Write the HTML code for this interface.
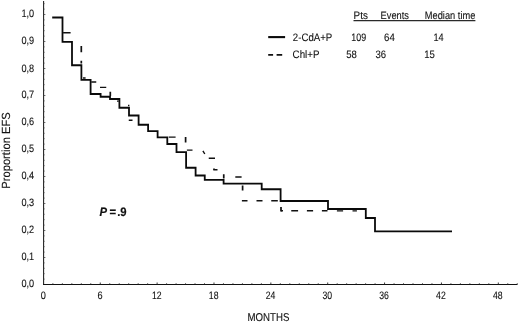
<!DOCTYPE html>
<html><head><meta charset="utf-8"><title>EFS</title>
<style>html,body{margin:0;padding:0;background:#fff}svg{display:block;filter:grayscale(1)}text{font-family:"Liberation Sans",sans-serif;fill:#111;stroke:#111;text-rendering:geometricPrecision}</style></head><body>
<svg width="520" height="323" viewBox="0 0 520 323">
<rect width="520" height="323" fill="#fff"/>
<path d="M43.6 1 V284.5" stroke="#1c1c1c" stroke-width="1.05" fill="none"/>
<path d="M43 284.5 H517.4" stroke="#111" stroke-width="1.05" fill="none"/>
<path d="M52.88 284.5 v-1.2 M62.35 284.5 v-1.2 M71.83 284.5 v-1.2 M81.31 284.5 v-1.2 M90.78 284.5 v-1.2 M100.26 284.5 v-2.0 M109.74 284.5 v-1.2 M119.22 284.5 v-1.2 M128.69 284.5 v-1.2 M138.17 284.5 v-1.2 M147.65 284.5 v-1.2 M157.12 284.5 v-2.0 M166.60 284.5 v-1.2 M176.08 284.5 v-1.2 M185.56 284.5 v-1.2 M195.03 284.5 v-1.2 M204.51 284.5 v-1.2 M213.99 284.5 v-2.0 M223.46 284.5 v-1.2 M232.94 284.5 v-1.2 M242.42 284.5 v-1.2 M251.89 284.5 v-1.2 M261.37 284.5 v-1.2 M270.85 284.5 v-2.0 M280.32 284.5 v-1.2 M289.80 284.5 v-1.2 M299.28 284.5 v-1.2 M308.76 284.5 v-1.2 M318.23 284.5 v-1.2 M327.71 284.5 v-2.0 M337.19 284.5 v-1.2 M346.66 284.5 v-1.2 M356.14 284.5 v-1.2 M365.62 284.5 v-1.2 M375.09 284.5 v-1.2 M384.57 284.5 v-2.0 M394.05 284.5 v-1.2 M403.53 284.5 v-1.2 M413.00 284.5 v-1.2 M422.48 284.5 v-1.2 M431.96 284.5 v-1.2 M441.43 284.5 v-2.0 M450.91 284.5 v-1.2 M460.39 284.5 v-1.2 M469.87 284.5 v-1.2 M479.34 284.5 v-1.2 M488.82 284.5 v-1.2 M498.30 284.5 v-2.0 M507.77 284.5 v-1.2 M517.25 284.5 v-1.2" stroke="#222" stroke-width="0.9" fill="none"/>
<path d="M43.6 279.10 h1.0 M43.6 273.70 h1.0 M43.6 268.30 h1.0 M43.6 262.90 h1.0 M43.6 257.50 h1.8 M43.6 252.10 h1.0 M43.6 246.70 h1.0 M43.6 241.30 h1.0 M43.6 235.90 h1.0 M43.6 230.50 h1.8 M43.6 225.10 h1.0 M43.6 219.70 h1.0 M43.6 214.30 h1.0 M43.6 208.90 h1.0 M43.6 203.50 h1.8 M43.6 198.10 h1.0 M43.6 192.70 h1.0 M43.6 187.30 h1.0 M43.6 181.90 h1.0 M43.6 176.50 h1.8 M43.6 171.10 h1.0 M43.6 165.70 h1.0 M43.6 160.30 h1.0 M43.6 154.90 h1.0 M43.6 149.50 h1.8 M43.6 144.10 h1.0 M43.6 138.70 h1.0 M43.6 133.30 h1.0 M43.6 127.90 h1.0 M43.6 122.50 h1.8 M43.6 117.10 h1.0 M43.6 111.70 h1.0 M43.6 106.30 h1.0 M43.6 100.90 h1.0 M43.6 95.50 h1.8 M43.6 90.10 h1.0 M43.6 84.70 h1.0 M43.6 79.30 h1.0 M43.6 73.90 h1.0 M43.6 68.50 h1.8 M43.6 63.10 h1.0 M43.6 57.70 h1.0 M43.6 52.30 h1.0 M43.6 46.90 h1.0 M43.6 41.50 h1.8 M43.6 36.10 h1.0 M43.6 30.70 h1.0 M43.6 25.30 h1.0 M43.6 19.90 h1.0 M43.6 14.50 h1.8 M43.6 9.10 h1.0 M43.6 3.70 h1.0" stroke="#444" stroke-width="0.8" fill="none"/>
<path d="M52.2 17.5 L62.5 17.5 L62.5 41.9 L72 41.9 L72 65.25 L81.4 65.25 L81.4 79.9 L90.6 79.9 L90.6 94.0 L100.6 94.0 L100.6 96.75 L110 96.75 L110 99.0 L119.4 99.0 L119.4 107.75 L129 107.75 L129 115.5 L138.6 115.5 L138.6 124.75 L148.1 124.75 L148.1 131.1 L157.6 131.1 L157.6 137.4 L167.3 137.4 L167.3 144.0 L176.5 144.0 L176.5 152.2 L186.1 152.2 L186.1 167.75 L195.6 167.75 L195.6 175.5 L204.75 175.5 L204.75 179.9 L223.6 179.9 L223.6 183.6 L261.7 183.6 L261.7 189.25 L280.6 189.25 L280.6 201.0 L328 201.0 L328 209.0 L365.8 209.0 L365.8 218.0 L375 218.0 L375 231.3 L452 231.3" stroke="#0a0a0a" stroke-width="1.8" fill="none" stroke-linejoin="miter"/>
<path d="M81.3 46.0 V52.3 M81.3 60.8 V63.5 M110.3 91.8 V95.9 M185.6 137.0 V142.4 M214 168.4 V169.7 M223.75 174.25 V178.5 M242.6 185.5 V190.5 M281 207.0 V211.5" stroke="#111" stroke-width="1.7" fill="none"/>
<path d="M63.1 32.75 H70.6 M83 78.0 H85.6 M91.25 82.0 H96.25 M100 87.4 H106.25 M117 101.1 H118.75 M128 105.5 H129.4 M128.75 120.25 H132.5 M168.75 137.1 H175.6 M186.9 150.1 H192.5 M208.75 158.3 H215 M213.3 169.7 H217.5 M235.3 177.0 H241.6 M241.9 200.7 H247.5 M256.5 200.7 H262.5 M271.25 200.7 H277.8 M281 210.7 H283 M291.25 210.7 H298.1 M306.9 210.7 H313.1 M321.9 210.7 H327.5 M336.9 210.9 H343.1 M352.5 210.9 H356.9 M202.9 150.8 L204.8 154" stroke="#111" stroke-width="1.4" fill="none"/>
<path d="M268.2 37.1 H285.1" stroke="#0a0a0a" stroke-width="2.1"/>
<path d="M268.2 54.9 H273.1 M276.6 54.9 H282.2" stroke="#111" stroke-width="1.9"/>
<path d="M353.5 20.6 H475.4" stroke="#2a2a2a" stroke-width="1.05"/>
<text transform="translate(21.5 287.2) scale(0.09137 0.10600)" font-size="100" stroke-width="1.0">0,0</text>
<text transform="translate(21.5 260.19) scale(0.09137 0.10600)" font-size="100" stroke-width="1.0">0,1</text>
<text transform="translate(21.5 233.18) scale(0.09137 0.10600)" font-size="100" stroke-width="1.0">0,2</text>
<text transform="translate(21.5 206.17) scale(0.09137 0.10600)" font-size="100" stroke-width="1.0">0,3</text>
<text transform="translate(21.5 179.16) scale(0.09137 0.10600)" font-size="100" stroke-width="1.0">0,4</text>
<text transform="translate(21.5 152.15) scale(0.09137 0.10600)" font-size="100" stroke-width="1.0">0,5</text>
<text transform="translate(21.5 125.14) scale(0.09137 0.10600)" font-size="100" stroke-width="1.0">0,6</text>
<text transform="translate(21.5 98.43) scale(0.09137 0.10600)" font-size="100" stroke-width="1.0">0,7</text>
<text transform="translate(21.5 71.52) scale(0.09137 0.10600)" font-size="100" stroke-width="1.0">0,8</text>
<text transform="translate(21.5 44.31) scale(0.09137 0.10600)" font-size="100" stroke-width="1.0">0,9</text>
<text transform="translate(21.5 17.1) scale(0.09137 0.10600)" font-size="100" stroke-width="1.0">1,0</text>
<text transform="translate(40.65 298.6) scale(0.09171 0.10800)" font-size="100" stroke-width="1.0">0</text>
<text transform="translate(97.47 298.6) scale(0.09171 0.10800)" font-size="100" stroke-width="1.0">6</text>
<text transform="translate(151.99 298.6) scale(0.08722 0.10800)" font-size="100" stroke-width="1.0">12</text>
<text transform="translate(208.81 298.6) scale(0.08722 0.10800)" font-size="100" stroke-width="1.0">18</text>
<text transform="translate(265.63 298.6) scale(0.08722 0.10800)" font-size="100" stroke-width="1.0">24</text>
<text transform="translate(322.45 298.6) scale(0.08722 0.10800)" font-size="100" stroke-width="1.0">30</text>
<text transform="translate(379.27 298.6) scale(0.08722 0.10800)" font-size="100" stroke-width="1.0">36</text>
<text transform="translate(436.09 298.6) scale(0.08722 0.10800)" font-size="100" stroke-width="1.0">42</text>
<text transform="translate(492.91 298.6) scale(0.08722 0.10800)" font-size="100" stroke-width="1.0">48</text>
<text transform="translate(247.5 320.7) scale(0.09693 0.11400)" font-size="100" stroke-width="1.0">MONTHS</text>
<text transform="translate(9.7 188.7) rotate(-90) scale(0.11176 0.11800)" font-size="100" stroke-width="1.0">Proportion EFS</text>
<text transform="translate(353.6 18.8) scale(0.09828 0.10800)" font-size="100" stroke-width="1.0">Pts</text>
<text transform="translate(380.6 18.8) scale(0.09290 0.10800)" font-size="100" stroke-width="1.0">Events</text>
<text transform="translate(424.8 18.8) scale(0.09291 0.10800)" font-size="100" stroke-width="1.0">Median time</text>
<text transform="translate(292.8 40.9) scale(0.09668 0.10800)" font-size="100" stroke-width="1.0">2-CdA+P</text>
<text transform="translate(292.6 58.3) scale(0.09740 0.10800)" font-size="100" stroke-width="1.0">Chl+P</text>
<text transform="translate(351.3 40.9) scale(0.08931 0.10800)" font-size="100" stroke-width="1.0">109</text>
<text transform="translate(384 40.9) scale(0.09711 0.10800)" font-size="100" stroke-width="1.0">64</text>
<text transform="translate(433.5 40.9) scale(0.09171 0.10800)" font-size="100" stroke-width="1.0">14</text>
<text transform="translate(346.3 58.3) scale(0.09531 0.10800)" font-size="100" stroke-width="1.0">58</text>
<text transform="translate(375.4 58.3) scale(0.09531 0.10800)" font-size="100" stroke-width="1.0">36</text>
<text transform="translate(424.3 58.3) scale(0.09531 0.10800)" font-size="100" stroke-width="1.0">15</text>
<text transform="translate(99.6 216.1) scale(0.11300 0.12300)" font-size="100" stroke-width="1.5" font-weight="bold" font-style="italic">P</text>
<text transform="translate(109.4 215.7) scale(0.11300 0.12300)" font-size="100" stroke-width="1.5" font-weight="bold">=</text>
<text transform="translate(117.2 216.1) scale(0.11300 0.12300)" font-size="100" stroke-width="1.5" font-weight="bold">.9</text>
</svg></body></html>
